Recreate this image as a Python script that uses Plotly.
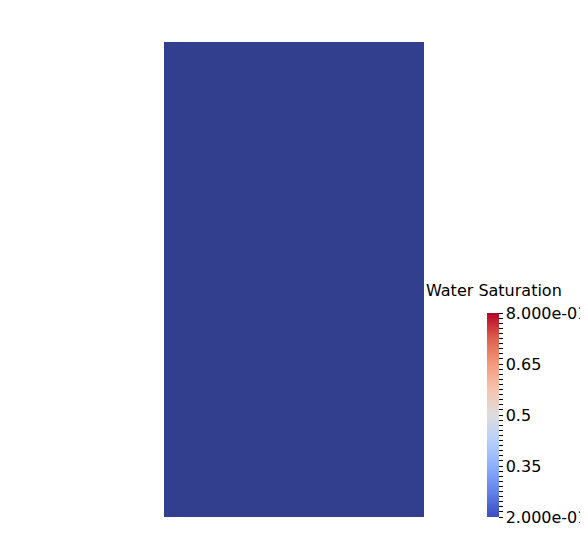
import plotly.graph_objects as go

# field value shown on the block (uniform) and colour-map range
saturation = [[0.2]]
sat_min, sat_max = 0.2, 0.8
major_ticks = [0.2, 0.35, 0.5, 0.65, 0.8]
major_labels = ["2.000e-01", "0.35", "0.5", "0.65", "8.000e-01"]

W, H = 588, 560
OFF = 8  # page body margin shifts the figure by this much


def px_x(x):
    return (x - OFF) / W


def px_y(y):
    return (H - (y - OFF)) / H


# ParaView-like "Cool to Warm" map
coolwarm = [
    [0.0, "rgb(59,76,192)"],
    [0.125, "rgb(98,130,234)"],
    [0.25, "rgb(141,176,254)"],
    [0.375, "rgb(184,208,249)"],
    [0.5, "rgb(221,221,221)"],
    [0.625, "rgb(245,196,173)"],
    [0.75, "rgb(244,154,123)"],
    [0.875, "rgb(222,96,77)"],
    [1.0, "rgb(180,4,38)"],
]
# the rendered surface is lit, so the low end looks darker
shaded = [[0.0, "rgb(50,63,143)"], [1.0, "rgb(150,3,30)"]]

# minor tick every 0.015, labels only on the majors
n_minor = 40
tickvals = [sat_min + i * (sat_max - sat_min) / n_minor for i in range(n_minor + 1)]
ticktext = []
for v in tickvals:
    lab = ""
    for mv, ml in zip(major_ticks, major_labels):
        if abs(v - mv) < 1e-9:
            lab = ml
    ticktext.append(lab)

font = dict(family="DejaVu Sans", size=16, color="black")

fig = go.Figure()
fig.add_trace(
    go.Heatmap(
        z=saturation,
        zmin=sat_min,
        zmax=sat_max,
        colorscale=shaded,
        showscale=False,
        hoverinfo="skip",
    )
)
fig.add_trace(
    go.Scatter(
        x=[0, 0],
        y=[0, 0],
        mode="markers",
        hoverinfo="skip",
        showlegend=False,
        marker=dict(
            size=0.1,
            opacity=0,
            color=[sat_min, sat_max],
            cmin=sat_min,
            cmax=sat_max,
            colorscale=coolwarm,
            showscale=True,
            colorbar=dict(
                x=px_x(487),
                xanchor="left",
                y=px_y(517),
                yanchor="bottom",
                len=204 / H,
                lenmode="fraction",
                thickness=12,
                outlinewidth=0,
                ticks="outside",
                ticklen=4,
                tickwidth=1,
                tickcolor="black",
                tickvals=tickvals,
                ticktext=ticktext,
                tickfont=font,
                xpad=0,
                ypad=0,
            ),
        ),
    )
)

fig.add_annotation(
    text="Water Saturation",
    x=px_x(424),
    y=px_y(290),
    xref="paper",
    yref="paper",
    xanchor="left",
    yanchor="middle",
    showarrow=False,
    font=font,
)

fig.update_xaxes(
    domain=[px_x(164), px_x(424)],
    showgrid=False,
    zeroline=False,
    showticklabels=False,
    ticks="",
)
fig.update_yaxes(
    domain=[px_y(517), px_y(42)],
    showgrid=False,
    zeroline=False,
    showticklabels=False,
    ticks="",
)
fig.update_layout(
    width=W,
    height=H,
    margin=dict(l=0, r=0, t=0, b=0),
    paper_bgcolor="white",
    plot_bgcolor="white",
    showlegend=False,
)

fig.write_html("out.html")
